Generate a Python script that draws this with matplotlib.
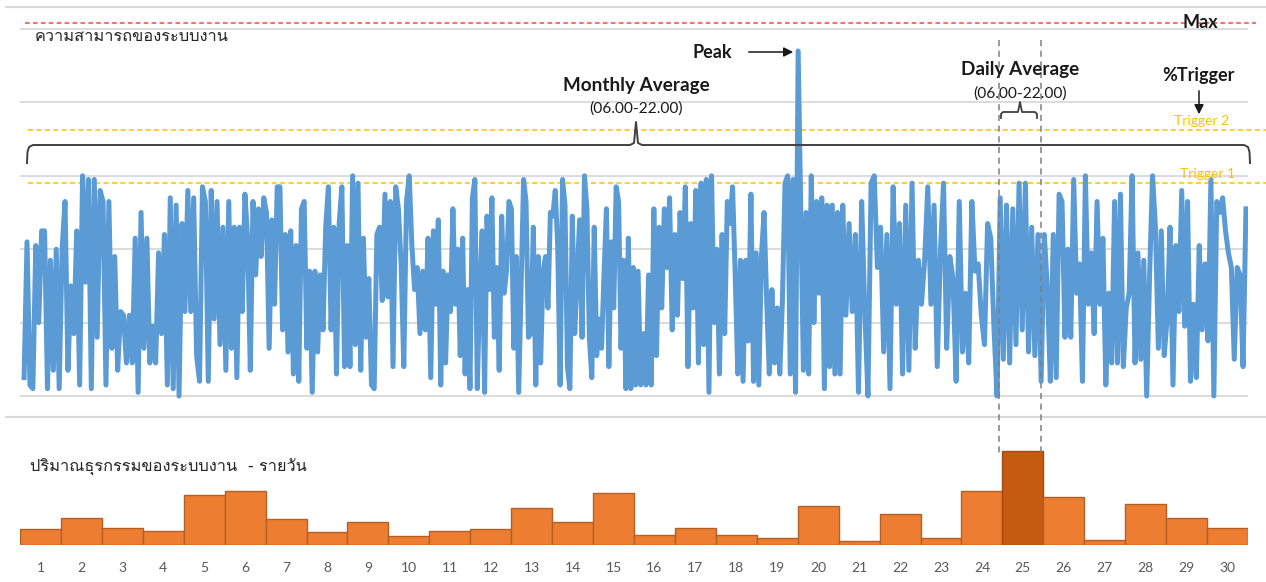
import numpy as np
from matplotlib import pyplot as plt
from matplotlib import font_manager, ft2font

plt.rcParams['font.family'] = ['Lato', 'DejaVu Sans', 'Noto Sans', 'Roboto', 'Open Sans']

# daily transaction volume (bottom panel)
days = np.arange(1, 31)
volume = [16, 27, 17, 14, 50, 54, 26, 13, 23, 9, 14, 16, 37, 23, 52,
          10, 17, 10, 7, 39, 4, 31, 7, 54, 94, 48, 5, 41, 27, 17]
highlight_day = 25

block1 = [5, 42, 3, 2, 41, 20, 45, 45, 2, 37, 7, 40, 2, 40, 53, 7, 30, 17, 45, 3, 60, 31, 59, 2, 59, 16, 56, 53, 3, 53,
          13, 38, 7, 23, 22, 9, 22, 9, 43, 1, 50, 13, 43, 9, 19, 9, 39, 17, 44, 3, 54, 2, 52, 0, 47, 23, 56, 23, 54, 11,
          4, 57, 53, 4, 56, 21, 53, 14, 46, 7]
block2 = [53, 13, 46, 5, 46, 23, 55, 43, 7, 53, 33, 51, 38, 54, 50, 13, 48, 25, 57, 57, 18, 44, 12, 45, 6, 41, 4, 51,
          53, 13, 34, 1, 34, 12, 33, 18, 46, 57, 18, 46, 6, 47, 57, 8, 41, 8, 60, 14, 58, 7, 43, 16, 32, 3, 2, 44, 46,
          26, 55, 27, 53, 8, 57, 51, 36, 8, 53, 60, 41, 29, 35, 17, 34, 18, 43, 5]
block3 = [45, 25, 48, 3, 34, 9, 33, 23, 51, 25, 40, 11, 43, 6, 29, 2, 54, 59, 2, 29, 45, 1, 49, 29, 54, 16, 35, 7, 49,
          28, 34, 53, 51, 13, 38, 1, 30, 59, 53, 16, 17, 46, 3, 38, 9, 34, 38, 24, 50, 49, 56, 41, 3, 59, 52, 8, 2, 49,
          17, 33, 48, 16, 60, 51, 16, 5, 46, 11, 21, 13, 33, 51, 8, 42, 24, 57, 53, 13, 37, 2, 43, 2, 35, 3]
block4 = [34, 3, 17, 3, 33, 3, 51, 11, 46, 24, 51, 35, 54, 18, 44, 22, 50, 32, 57, 8, 47, 24, 56, 9, 58, 14, 59, 1, 60,
          20, 40, 6, 44, 17, 53, 47, 57, 33, 6, 37, 4, 37, 15, 55, 4, 39, 3, 38, 50, 26, 6, 29, 9, 24, 6, 26, 58, 60, 6,
          59, 1, 94, 51, 7, 50, 6, 60, 20, 53, 28, 54, 2, 52, 8, 52, 6, 50, 6]
block5 = [52, 22, 47, 23, 44, 1, 53, 23, 0, 58, 60, 35, 46, 12, 44, 2, 57, 25, 47, 6, 52, 7, 58, 13, 37, 25, 37, 57,
          25, 52, 8, 39, 58, 13, 38, 32, 4, 53, 12, 28, 9, 53, 34, 36, 22, 14, 47, 43, 19, 0, 54, 10, 52, 9, 51, 14, 58,
          18, 58, 12, 46, 11, 44, 4, 44]
block6 = [29, 4, 44, 5, 55, 53, 16, 40, 16, 59, 28, 36, 4, 60, 25, 39, 17, 53, 25, 43, 3, 28, 9, 53, 9, 55, 8, 24, 28,
          60, 9, 39, 10, 37, 0, 33, 60, 46, 13, 45, 11, 21, 46, 3, 41, 23, 56, 19, 53, 4, 25, 5, 41, 18, 36, 15, 59, 0,
          53, 50, 54, 45, 39, 35, 10, 35, 33, 8, 51]
blocks = [block1, block2, block3, block4, block5, block6]
block_edges = [0.6, 5.6, 10.6, 15.6, 20.6, 25.6, 30.45]

max_level = 101.6
trigger2 = 72.5
trigger1 = 58.0

x_line = np.concatenate([np.linspace(block_edges[k], block_edges[k + 1], len(b), endpoint=(k == len(blocks) - 1))
                         for k, b in enumerate(blocks)])
y_line = np.concatenate(blocks)


def find_family_with(char):
  # look through every font matplotlib knows for one that has this glyph
  found = []
  for f in font_manager.fontManager.ttflist:
    try:
      if ord(char) in ft2font.FT2Font(f.fname).get_charmap():
        found.append(f.name)
    except Exception:
      pass
  return found

thai_fams = find_family_with('ก')
thai = list(dict.fromkeys(thai_fams)) + ['DejaVu Sans']

W, H = 1266, 582
fig = plt.figure(figsize=(W / 100, H / 100), dpi=100)

def px_box(left, top, right, bottom):
  return [left / W, 1 - bottom / H, (right - left) / W, (bottom - top) / H]

# ---------------- top panel
ax = fig.add_axes(px_box(20, 10.65, 1248, 403.34))
ax.set_xlim(0.5, 30.5)
ax.set_ylim(-2, 105)
ax.set_yticks(np.arange(0, 101, 20))
ax.yaxis.grid(True, color='#d9d9d9', lw=1.3)
ax.set_xticks([])
ax.tick_params(left=False, labelleft=False)
for s in ax.spines.values():
  s.set_visible(False)

ax.plot(x_line, y_line, color='#5b9bd5', lw=3.6, solid_joinstyle='round', zorder=3)
ax.plot([0.62, 30.7], [max_level, max_level], color='#ff6f6f', lw=1.5, dashes=(2.2, 1.6), clip_on=False, zorder=2)
ax.plot([0.7, 31.0], [trigger2, trigger2], color='#ffc000', lw=1.1, dashes=(3.3, 2.2), clip_on=False, zorder=2)
ax.plot([0.7, 31.0], [trigger1, trigger1], color='#ffc000', lw=1.1, dashes=(3.3, 2.2), clip_on=False, zorder=2)

# ---------------- bottom panel
ax2 = fig.add_axes(px_box(20, 417, 1248, 545))
colors = ['#c55a11' if d == highlight_day else '#ed7d31' for d in days]
edges = ['#a04a0f' if d == highlight_day else '#b45f25' for d in days]
ax2.bar(days, volume, width=1.0, color=colors, edgecolor=edges, lw=1.0)
ax2.set_xlim(0.5, 30.5)
ax2.set_ylim(0, 128)
ax2.set_yticks([])
ax2.set_xticks(days)
ax2.set_xticklabels([str(d) for d in days], fontsize=10, color='#595959')
ax2.tick_params(axis='x', length=0, pad=12)
for s in ax2.spines.values():
  s.set_visible(False)

# ---------------- annotations in pixel coordinates
ov = fig.add_axes([0, 0, 1, 1], zorder=10)
ov.set_xlim(0, W)
ov.set_ylim(H, 0)
ov.axis('off')
ov.patch.set_visible(False)

ov.plot([6, W], [7, 7], color='#d9d9d9', lw=1.5)
ov.plot([6, W], [417, 417], color='#d9d9d9', lw=1.5)

ov.text(35, 37, 'ความสามารถของระบบงาน', fontsize=11.8, color='#262626', va='center', ha='left', family=thai)
ov.text(30, 467, 'ปริมาณธุรกรรมของระบบงาน  - รายวัน', fontsize=11.8, color='#262626', va='center', ha='left', family=thai)

ov.text(1200, 22, 'Max', fontsize=13, fontweight='bold', ha='center', va='center', color='#1a1a1a')
ov.text(712, 52, 'Peak', fontsize=13, fontweight='bold', ha='center', va='center', color='#1a1a1a')
ov.annotate('', xy=(796, 52), xytext=(746, 52),
            arrowprops=dict(arrowstyle='-|>', color='#1a1a1a', lw=1.1, mutation_scale=14))

ov.text(636, 85, 'Monthly Average', fontsize=13.6, fontweight='bold', ha='center', va='center', color='#1a1a1a')
ov.text(636, 109, '(06.00-22.00)', fontsize=11.2, ha='center', va='center', color='#1a1a1a')

ov.text(1020, 70, 'Daily Average', fontsize=13.6, fontweight='bold', ha='center', va='center', color='#1a1a1a')
ov.text(1020, 94, '(06.00-22.00)', fontsize=11.2, ha='center', va='center', color='#1a1a1a')

ov.text(1198, 75, '%Trigger', fontsize=13, fontweight='bold', ha='center', va='center', color='#1a1a1a')
ov.annotate('', xy=(1199, 117), xytext=(1199, 88),
            arrowprops=dict(arrowstyle='-|>', color='#1a1a1a', lw=1.1, mutation_scale=14))
ov.text(1202, 121, 'Trigger 2', fontsize=10, ha='center', va='center', color='#ffc000')
ov.text(1208, 174, 'Trigger 1', fontsize=10, ha='center', va='center', color='#ffc000')

# monthly brace
bx = [27, 27.5, 29, 33, 630, 634, 636, 638, 642, 1244, 1248, 1249.5, 1250]
by = [163, 152, 147, 145, 145, 143, 122, 143, 145, 145, 147, 152, 163]
ov.plot(bx, by, color='#404040', lw=1.4, solid_joinstyle='round')

# daily brace
dx = [1001, 1001, 1003, 1018, 1020, 1022, 1035, 1037, 1037]
dy = [118, 114, 112, 112, 102, 112, 112, 114, 118]
ov.plot(dx, dy, color='#404040', lw=1.3)

# daily window markers
for xv in (999, 1041):
  ov.plot([xv, xv], [40, 455], color='#7f7f7f', lw=1.1, dashes=(4, 3))

fig.savefig('out.png', dpi=100)
